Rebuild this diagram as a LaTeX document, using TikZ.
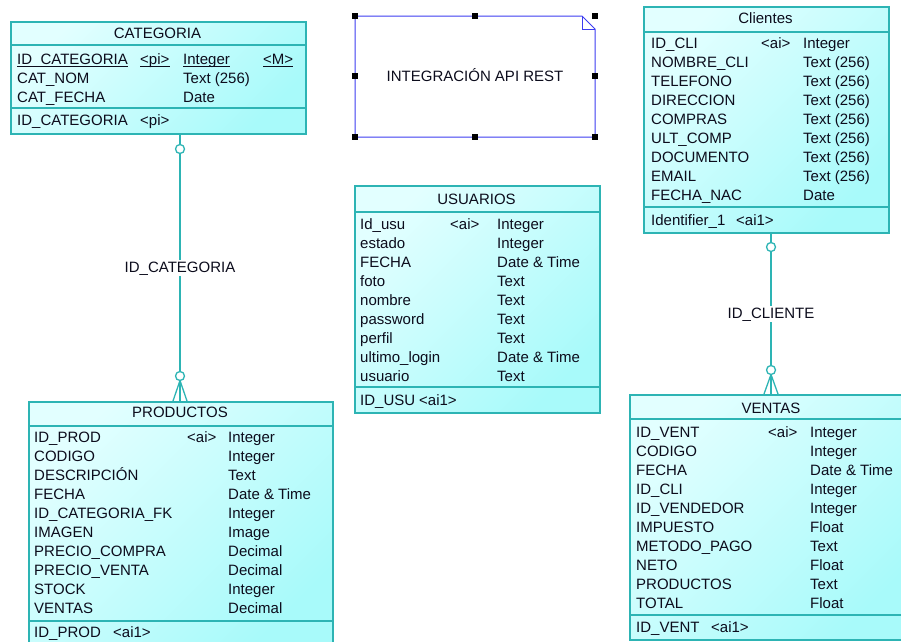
\documentclass[tikz,border=0pt]{standalone}
\usepackage{fontspec}
\setmainfont{Liberation Sans}
\usetikzlibrary{calc}
\definecolor{bord}{RGB}{45,180,180}
\definecolor{fillA}{RGB}{226,255,255}
\definecolor{fillB}{RGB}{168,250,250}
\definecolor{notecol}{RGB}{60,60,240}
\definecolor{txt}{RGB}{12,12,28}
\newcommand\tblfont{\fontsize{15}{17}\selectfont}
\tikzset{
 tbl/.style={draw=bord, line width=1.5pt, rectangle, inner sep=0, anchor=north west,
   top color=fillA, bottom color=fillB, shading angle=45},
 sep/.style={draw=bord, line width=1.5pt},
 cell/.style={anchor=base west, inner sep=0, text=txt, font=\tblfont},
 head/.style={anchor=base, inner sep=0, text=txt, font=\tblfont},
 rel/.style={draw=bord, line width=1.3pt},
 relcirc/.style={draw=bord, fill=white, line width=1.3pt, circle, minimum size=9pt, inner sep=0},
 rellabel/.style={fill=white, inner sep=1.5pt, text=txt, font=\tblfont, anchor=base},
 handle/.style={fill=black, minimum size=5.5pt, inner sep=0, rectangle},
 ul/.style={draw=txt, line width=0.9pt},
}
\begin{document}
\begin{tikzpicture}[x=1pt,y=-1pt]
\useasboundingbox (0,0) rectangle (901,641);

% ---------------- CATEGORIA ----------------
\node[tbl, minimum width=295pt, minimum height=112pt] (cat) at (10,21) {};
\draw[sep] (10,45) -- (305,45);
\draw[sep] (10,108) -- (305,108);
\node[head] (cat-h) at (157.5,38) {CATEGORIA};
\node[cell] (cat-a1) at (17,64) {ID\_CATEGORIA};
\node[cell] (cat-b1) at (140,64) {<pi>};
\node[cell] (cat-c1) at (183,64) {Integer};
\node[cell] (cat-d1) at (263,64) {<M>};
\foreach \k in {cat-a1,cat-b1,cat-c1,cat-d1}{
  \draw[ul] ($(\k.base west)+(0,2.5)$) -- ($(\k.base east)+(0,2.5)$);
}
\node[cell] (cat-a2) at (17,83) {CAT\_NOM};
\node[cell] (cat-c2) at (183,83) {Text (256)};
\node[cell] (cat-a3) at (17,102) {CAT\_FECHA};
\node[cell] (cat-c3) at (183,102) {Date};
\node[cell] (cat-k1) at (17,125) {ID\_CATEGORIA};
\node[cell] (cat-k2) at (140,125) {<pi>};

% ---------------- NOTE ----------------
\draw[notecol, line width=1pt] (355,16) -- (582,16) -- (595,29) -- (595,137) -- (355,137) -- cycle;
\draw[notecol, line width=1pt] (582,16) -- (582,29) -- (595,29);
\node[anchor=base, inner sep=0, text=txt, font=\tblfont] (note) at (475,81) {INTEGRACIÓN API REST};
\node[handle] (h1) at (355,16) {};
\node[handle] (h2) at (475,16) {};
\node[handle] (h3) at (595,16) {};
\node[handle] (h4) at (355,76) {};
\node[handle] (h5) at (595,76) {};
\node[handle] (h6) at (355,137) {};
\node[handle] (h7) at (475,137) {};
\node[handle] (h8) at (595,137) {};

% ---------------- Clientes ----------------
\node[tbl, minimum width=245pt, minimum height=226pt] (cli) at (643,6) {};
\draw[sep] (643,32) -- (888,32);
\draw[sep] (643,207) -- (888,207);
\node[head] (cli-h) at (765.5,23) {Clientes};
\foreach \a/\b/\c [count=\i from 0] in {ID\_CLI/<ai>/Integer, NOMBRE\_CLI//Text (256),
  TELEFONO//Text (256), DIRECCION//Text (256), COMPRAS//Text (256), ULT\_COMP//Text (256),
  DOCUMENTO//Text (256), EMAIL//Text (256), FECHA\_NAC//Date}{
  \node[cell] (cli-a\i) at (651,{48+19*\i}) {\a};
  \node[cell] (cli-b\i) at (761,{48+19*\i}) {\b};
  \node[cell] (cli-c\i) at (803,{48+19*\i}) {\c};
}
\node[cell] (cli-k1) at (651,225) {Identifier\_1};
\node[cell] (cli-k2) at (736,225) {<ai1>};

% ---------------- USUARIOS ----------------
\node[tbl, minimum width=245pt, minimum height=227pt] (usu) at (354,185) {};
\draw[sep] (354,212) -- (599,212);
\draw[sep] (354,387) -- (599,387);
\node[head] (usu-h) at (476.5,204) {USUARIOS};
\foreach \a/\b/\c [count=\i from 0] in {Id\_usu/<ai>/Integer, estado//Integer,
  FECHA//Date \& Time, foto//Text, nombre//Text, password//Text, perfil//Text,
  ultimo\_login//Date \& Time, usuario//Text}{
  \node[cell] (usu-a\i) at (360,{229+19*\i}) {\a};
  \node[cell] (usu-b\i) at (450,{229+19*\i}) {\b};
  \node[cell] (usu-c\i) at (497,{229+19*\i}) {\c};
}
\node[cell] (usu-k1) at (360,405) {ID\_USU};
\node[cell] (usu-k2) at (419,405) {<ai1>};

% ---------------- PRODUCTOS ----------------
\node[tbl, minimum width=304pt, minimum height=246pt] (prod) at (28,401) {};
\draw[sep] (28,426) -- (332,426);
\draw[sep] (28,621) -- (332,621);
\node[head] (prod-h) at (180,417) {PRODUCTOS};
\foreach \a/\b/\c [count=\i from 0] in {ID\_PROD/<ai>/Integer, CODIGO//Integer,
  DESCRIPCIÓN//Text, FECHA//Date \& Time, ID\_CATEGORIA\_FK//Integer, IMAGEN//Image,
  PRECIO\_COMPRA//Decimal, PRECIO\_VENTA//Decimal, STOCK//Integer, VENTAS//Decimal}{
  \node[cell] (prod-a\i) at (34,{442+19*\i}) {\a};
  \node[cell] (prod-b\i) at (187,{442+19*\i}) {\b};
  \node[cell] (prod-c\i) at (228,{442+19*\i}) {\c};
}
\node[cell] (prod-k1) at (34,637) {ID\_PROD};
\node[cell] (prod-k2) at (113,637) {<ai1>};

% ---------------- VENTAS ----------------
\node[tbl, minimum width=284pt, minimum height=245pt] (ven) at (629,394) {};
\draw[sep] (629,419) -- (913,419);
\draw[sep] (629,615) -- (913,615);
\node[head] (ven-h) at (771,413) {VENTAS};
\foreach \a/\b/\c [count=\i from 0] in {ID\_VENT/<ai>/Integer, CODIGO//Integer,
  FECHA//Date \& Time, ID\_CLI//Integer, ID\_VENDEDOR//Integer, IMPUESTO//Float,
  METODO\_PAGO//Text, NETO//Float, PRODUCTOS//Text, TOTAL//Float}{
  \node[cell] (ven-a\i) at (636,{437+19*\i}) {\a};
  \node[cell] (ven-b\i) at (768,{437+19*\i}) {\b};
  \node[cell] (ven-c\i) at (810,{437+19*\i}) {\c};
}
\node[cell] (ven-k1) at (636,632) {ID\_VENT};
\node[cell] (ven-k2) at (711,632) {<ai1>};

% ---------------- Relationships ----------------
\coordinate (r1) at (180,149);
\coordinate (r2) at (180,376);
\coordinate (r3) at (771,247);
\coordinate (r4) at (771,370);
\draw[rel] (cat.south -| r1) -- (r1) -- (r2);
\draw[rel] ($(r2)+(0,4.5)$) -- (prod.north -| r2);
\draw[rel] ($(r2)+(0,4.5)$) -- ($(prod.north -| r2)+(-7,0)$);
\draw[rel] ($(r2)+(0,4.5)$) -- ($(prod.north -| r2)+(7,0)$);
\node[relcirc] (c1) at (r1) {};
\node[relcirc] (c2) at (r2) {};
\node[rellabel] (l1) at (180,272) {ID\_CATEGORIA};

\draw[rel] (cli.south -| r3) -- (r3) -- (r4);
\draw[rel] ($(r4)+(0,4.5)$) -- (ven.north -| r4);
\draw[rel] ($(r4)+(0,4.5)$) -- ($(ven.north -| r4)+(-7,0)$);
\draw[rel] ($(r4)+(0,4.5)$) -- ($(ven.north -| r4)+(7,0)$);
\node[relcirc] (c3) at (r3) {};
\node[relcirc] (c4) at (r4) {};
\node[rellabel] (l2) at (771,318) {ID\_CLIENTE};
\end{tikzpicture}
\end{document}
